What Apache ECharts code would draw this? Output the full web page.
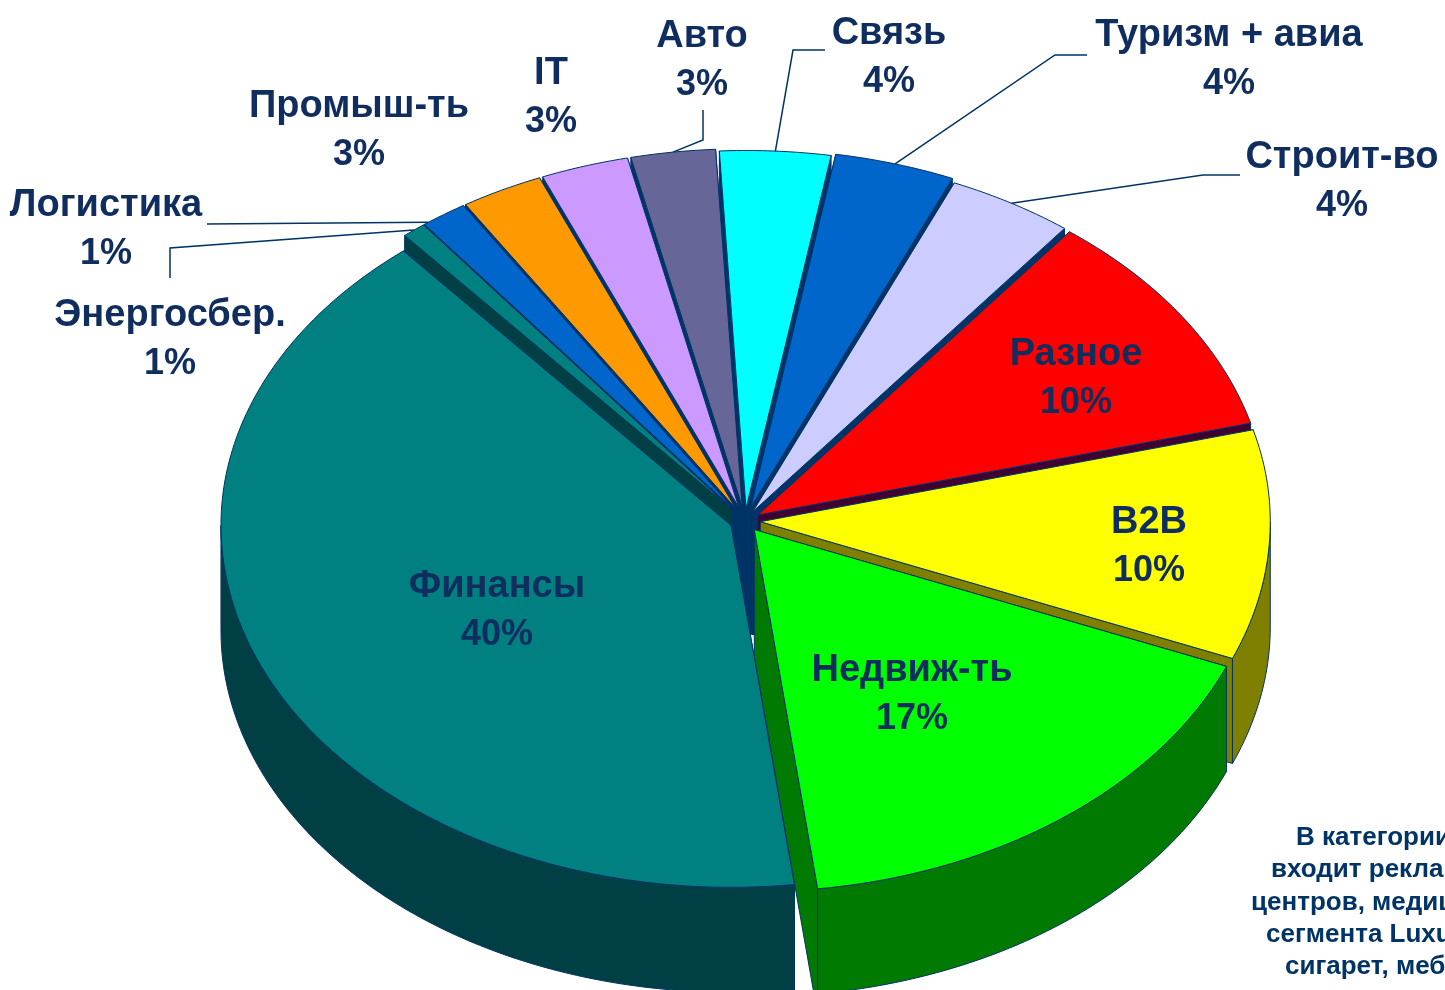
<!DOCTYPE html>
<html lang="ru">
  <head>
    <meta charset="utf-8" />
    <title>Отрасли</title>
    <script src="https://cdn.jsdelivr.net/npm/echarts@6/dist/echarts.min.js"></script>
    <style>
      html, body { margin: 0; padding: 0; background: #fff; overflow: hidden; }
      #chart { width: 1445px; height: 990px; }
    </style>
  </head>
  <body>
    <div id="chart"></div>
    <script>
      // clockwise from the top of the pie
      var categories = ['Связь', 'Туризм + авиа', 'Строит-во', 'Разное', 'B2B', 'Недвиж-ть', 'Финансы', 'Энергосбер.', 'Логистика', 'Промыш-ть', 'IT', 'Авто']
      // printed labels
      var percents = [4, 4, 4, 10, 10, 17, 40, 1, 1, 3, 3, 3]
      // slice sizes as they are drawn in the picture
      var values = [3.5, 3.8, 4, 10.4, 10.3, 16.85, 40.88, 0.75, 1.47, 2.6, 2.78, 2.67]
      var topColors = ['#00ffff', '#0066cc', '#ccccff', '#ff0000', '#ffff00', '#00ff00', '#008080', '#008080', '#0066cc', '#ff9900', '#cc99ff', '#666699']
      var sideColors = ['#003366', '#003366', '#003366', '#400030', '#808000', '#007a00', '#004044', '#004044', '#003366', '#003366', '#003366', '#003366']
      var explode = [0.035, 0.04, 0.03, 0.03, 0.03, 0.03, 0.03, 0.04, 0.04, 0.04, 0.04, 0.04]
      // label centres on the page
      var labelX = [889, 1229, 1342, 1076, 1149, 912, 497, 170, 106, 359, 551, 702]
      var labelY = [58, 60, 182, 379, 547, 695, 611, 340, 230, 131, 98, 61]
      // leader line elbows, null where the label sits on its slice
      var leaders = [
        [[793, 50], [825, 50]],
        [[1055, 55], [1087, 55]],
        [[1203, 175], [1240, 175]],
        null, null, null, null,
        [[170, 248], [170, 278]],
        [[207, 224]],
        null, null,
        [[703, 140], [703, 110]]
      ]
      // where along the slice rim each leader starts
      var leaderAt = [0.5, 0.5, 0.5, 0, 0, 0, 0, 0.5, 0.1, 0, 0, 0.5]
      var noteLines = ['В категории', 'входит рекла', 'центров, медиц', 'сегмента Luxu', 'сигарет, меб']
      var noteX = [1296, 1271, 1251, 1266, 1285]

      var cx = 745, cy = 521, rx = 510, ryBack = 358, ryFront = 362, depth = 105
      var startAngle = -3
      var ink = '#003366'
      var textColor = '#0f2d5e'

      var total = values.reduce(function (a, b) { return a + b }, 0)
      var slices = []
      var acc = startAngle
      values.forEach(function (v, i) {
        var span = v / total * 360
        slices.push({ from: acc, to: acc + span, mid: acc + span / 2, e: explode[i] })
        acc += span
      })
      var rad = function (d) { return d * Math.PI / 180 }

      // page position of a point on the pie top, r is 0 at the slice apex
      function pt (s, t, r, drop) {
        var u = s.e * Math.sin(rad(s.mid)) + r * Math.sin(rad(t))
        var v = s.e * Math.cos(rad(s.mid)) + r * Math.cos(rad(t))
        return [cx + rx * u, cy - v * (v > 0 ? ryBack : ryFront) + (drop || 0)]
      }
      function arc (s, a, b, drop) {
        var pts = []
        var n = Math.max(2, Math.ceil(Math.abs(b - a)))
        for (var k = 0; k <= n; k++) pts.push(pt(s, a + (b - a) * k / n, 1, drop))
        return pts
      }
      function poly (api, pts, fill) {
        return {
          type: 'polygon',
          shape: { points: pts.map(function (p) { return api.coord(p) }) },
          style: { fill: fill, stroke: ink, lineWidth: 1 }
        }
      }

      function renderHub (params, api) {
        var apex = slices.map(function (s) { return pt(s, 0, 0) })
        var low = slices.map(function (s) { return pt(s, 0, 0, depth) })
        var kids = [poly(api, apex, ink), poly(api, low, ink)]
        apex.forEach(function (p, i) {
          var j = (i + 1) % apex.length
          kids.push(poly(api, [p, apex[j], low[j], low[i]], ink))
        })
        return { type: 'group', children: kids }
      }

      function renderSide (params, api) {
        var i = api.value(0)
        var s = slices[i]
        var kids = []
        ;[s.from, s.to].forEach(function (t) {
          // the wall nearest the viewer reads deeper in the picture
          var drop = t > 150 && t < 200 ? depth * 1.2 : depth
          kids.push(poly(api, [pt(s, t, 0), pt(s, t, 1), pt(s, t, 1, drop), pt(s, t, 0, drop)], sideColors[i]))
        })
        var a = Math.max(s.from, 90), b = Math.min(s.to, 270)
        if (b > a) {
          kids.push(poly(api, arc(s, a, b).concat(arc(s, b, a, depth)), sideColors[i]))
        }
        return { type: 'group', children: kids }
      }

      function renderTop (params, api) {
        var i = api.value(0)
        var s = slices[i]
        return poly(api, [pt(s, 0, 0)].concat(arc(s, s.from, s.to)), topColors[i])
      }

      function renderLeader (params, api) {
        var i = api.value(0)
        var s = slices[i]
        if (!leaders[i]) return null
        var start = pt(s, s.from + (s.to - s.from) * leaderAt[i], 1)
        var pts = [start].concat(leaders[i])
        return {
          type: 'polyline',
          shape: { points: pts.map(function (p) { return api.coord(p) }) },
          style: { fill: null, stroke: ink, lineWidth: 1.5 }
        }
      }

      function renderLabel (params, api) {
        var i = api.value(0)
        var p = api.coord([labelX[i], labelY[i]])
        return {
          type: 'text',
          style: {
            x: p[0], y: p[1],
            text: '{n|' + categories[i] + '}\n{p|' + percents[i] + '%}',
            rich: {
              n: { fill: textColor, font: 'bold 38px "Liberation Sans", Arial, sans-serif', lineHeight: 49 },
              p: { fill: textColor, font: 'bold 36px "Liberation Sans", Arial, sans-serif', lineHeight: 49 }
            },
            align: 'center',
            verticalAlign: 'middle'
          }
        }
      }

      function customSeries (render, order) {
        return {
          type: 'custom',
          coordinateSystem: 'cartesian2d',
          renderItem: render,
          data: order.map(function (i) { return [i] }),
          encode: { x: -1, y: -1 },
          clip: false,
          silent: true,
          animation: false
        }
      }

      var chart = echarts.init(document.getElementById('chart'), null, { renderer: 'canvas' })
      var all = categories.map(function (c, i) { return i })
      chart.setOption({
        animation: false,
        backgroundColor: '#fff',
        grid: { left: 0, right: 0, top: 0, bottom: 0 },
        xAxis: { type: 'value', min: 0, max: 1445, show: false },
        yAxis: { type: 'value', min: 0, max: 990, inverse: true, show: false },
        series: [
          customSeries(renderHub, [0]),
          // back slices first, Финансы last so its rim hides the wall of Недвиж-ть
          customSeries(renderSide, [8, 9, 10, 11, 0, 1, 2, 3, 7, 4, 5, 6]),
          customSeries(renderTop, all),
          customSeries(renderLeader, all),
          customSeries(renderLabel, all)
        ],
        graphic: noteLines.map(function (line, i) {
          return {
            type: 'text',
            left: noteX[i],
            top: 825 + i * 32.2,
            silent: true,
            style: { text: line, fill: '#003366', font: 'bold 26px "Liberation Sans", Arial, sans-serif' }
          }
        })
      })
    </script>
  </body>
</html>
